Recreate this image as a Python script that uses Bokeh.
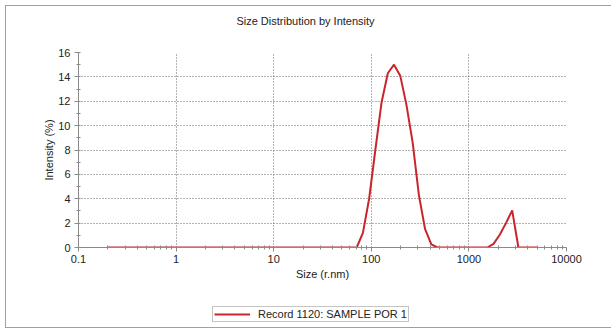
from bokeh.plotting import figure
from bokeh.layouts import column
from bokeh.models import (Range1d, FixedTicker, SingleIntervalTicker, CustomJSTickFormatter,
                          Legend, LegendItem, Label)
from bokeh.embed import file_html
from bokeh.resources import INLINE

# ---- data (radius size bins, nm) and intensity (%) ----
sizes = [0.2, 0.2316, 0.2683, 0.3107, 0.3598, 0.4166, 0.4825, 0.5587, 0.6470, 0.7493,
         0.8677, 1.005, 1.164, 1.348, 1.561, 1.808, 2.093, 2.424, 2.807, 3.251,
         3.765, 4.360, 5.049, 5.847, 6.771, 7.841, 9.080, 10.52, 12.18, 14.10,
         16.33, 18.91, 21.90, 25.37, 29.37, 34.02, 39.40, 45.62, 52.83, 61.18,
         70.85, 82.05, 95.02, 110.0, 127.4, 147.6, 170.9, 197.9, 229.2, 265.4,
         307.4, 355.9, 412.2, 477.4, 552.8, 640.2, 741.4, 858.6, 994.3, 1151,
         1333, 1544, 1788, 2070, 2398, 2777, 3216, 3724, 4313, 5000]
intensity = [0, 0, 0, 0, 0, 0, 0, 0, 0, 0,
             0, 0, 0, 0, 0, 0, 0, 0, 0, 0,
             0, 0, 0, 0, 0, 0, 0, 0, 0, 0,
             0, 0, 0, 0, 0, 0, 0, 0, 0, 0,
             0, 1.2, 4.0, 8.0, 11.9, 14.3, 15.0, 14.1, 11.7, 8.6,
             4.3, 1.5, 0.25, 0, 0, 0, 0, 0, 0, 0,
             0, 0, 0.3, 1.05, 2.0, 3.05, 0, 0, 0, 0]
x_ticks = [0.1, 1, 10, 100, 1000, 10000]
series_name = "Record 1120: SAMPLE POR 1"
title_text = "Size Distribution by Intensity"
x_label = "Size (r.nm)"
y_label = "Intensity (%)"

FONT = "Liberation Sans"
GRAY = "#8a8a8a"
LINE_COLOR = "#c8262c"
W = 611
H_TOP, H_MAIN, H_LEG = 34, 266, 31


def blank_fig(h, y_range):
    f = figure(width=W, height=h, output_backend="svg", toolbar_location=None,
               x_axis_location=None, y_axis_location=None, x_axis_type="log",
               x_range=Range1d(0.1, 10000), y_range=y_range,
               min_border_left=0, min_border_right=0, min_border_top=0, min_border_bottom=0)
    f.outline_line_color = None
    f.background_fill_alpha = 0
    f.border_fill_alpha = 0
    f.grid.visible = False
    return f


# ---- title strip (its frame is aligned with the main chart's frame) ----
p0 = blank_fig(H_TOP, Range1d(0, 1))
p0.add_layout(Label(x=227, y=14, x_units="screen", y_units="screen", text=title_text,
                    text_align="center", text_baseline="middle", text_font=FONT,
                    text_font_size="11px", text_color="#222222"))

# ---- main chart ----
p = figure(width=W, height=H_MAIN, x_axis_type="log", output_backend="svg",
           toolbar_location=None, x_range=Range1d(0.1, 10000), y_range=Range1d(0, 16),
           min_border_left=78, min_border_right=45, min_border_top=18, min_border_bottom=53)
p.outline_line_color = None
p.background_fill_color = "white"
p.border_fill_alpha = 0

p.line(sizes, intensity, color=LINE_COLOR, line_width=2)

minor = [m * t for t in x_ticks[:-1] for m in range(2, 10)]
p.xaxis.ticker = FixedTicker(ticks=x_ticks, minor_ticks=minor)
p.xaxis.formatter = CustomJSTickFormatter(code="return tick.toString();")
p.yaxis.ticker = SingleIntervalTicker(interval=2, num_minor_ticks=2)

for ax in (p.xaxis[0], p.yaxis[0]):
    ax.axis_line_color = GRAY
    ax.major_tick_line_color = GRAY
    ax.minor_tick_line_color = GRAY
    ax.major_tick_out = 4
    ax.major_tick_in = 0
    ax.minor_tick_out = 2
    ax.minor_tick_in = 2
    ax.major_label_text_font = FONT
    ax.major_label_text_font_size = "11px"
    ax.major_label_text_color = "#222222"
    ax.axis_label_text_font = FONT
    ax.axis_label_text_font_size = "11px"
    ax.axis_label_text_font_style = "normal"
    ax.axis_label_text_color = "#222222"

p.xaxis.axis_label = x_label
p.yaxis.axis_label = y_label
p.xaxis.major_label_standoff = 3
p.xaxis.axis_label_standoff = 2
p.yaxis.major_label_standoff = 4
p.yaxis.axis_label_standoff = 0

for g in (p.xgrid[0], p.ygrid[0]):
    g.grid_line_color = "#666666"
    g.grid_line_dash = "1 2"
    g.grid_line_width = 1

# ---- legend strip: the series is drawn again here only for its legend sample
# (its values lie outside this strip's y range, so the curve itself is not visible) ----
p2 = blank_fig(H_LEG, Range1d(-10, -9))
r2 = p2.line(sizes, intensity, color=LINE_COLOR, line_width=2)
lg = Legend(items=[LegendItem(label=series_name, renderers=[r2])], location=(134, 9))
lg.label_text_font = FONT
lg.label_text_font_size = "11px"
lg.label_text_color = "#222222"
lg.glyph_width = 36
lg.glyph_height = 12
lg.label_height = 12
lg.label_standoff = 8
lg.padding = 1
lg.spacing = 0
lg.margin = 0
lg.border_line_color = GRAY
lg.background_fill_color = "white"
lg.background_fill_alpha = 1
p2.add_layout(lg)

layout = column(p0, p, p2, spacing=0, styles={
    "background-color": "white",
    "box-shadow": ("inset 0 5px 0 0 #ffffff, inset 5px 0 0 0 #ffffff, inset 0 -3px 0 0 #ffffff, "
                   "inset 0 6px 0 0 #a0a0a0, inset 6px 0 0 0 #a0a0a0, inset 0 -4px 0 0 #a0a0a0"),
})

open("out.html", "w").write(file_html(layout, INLINE))
